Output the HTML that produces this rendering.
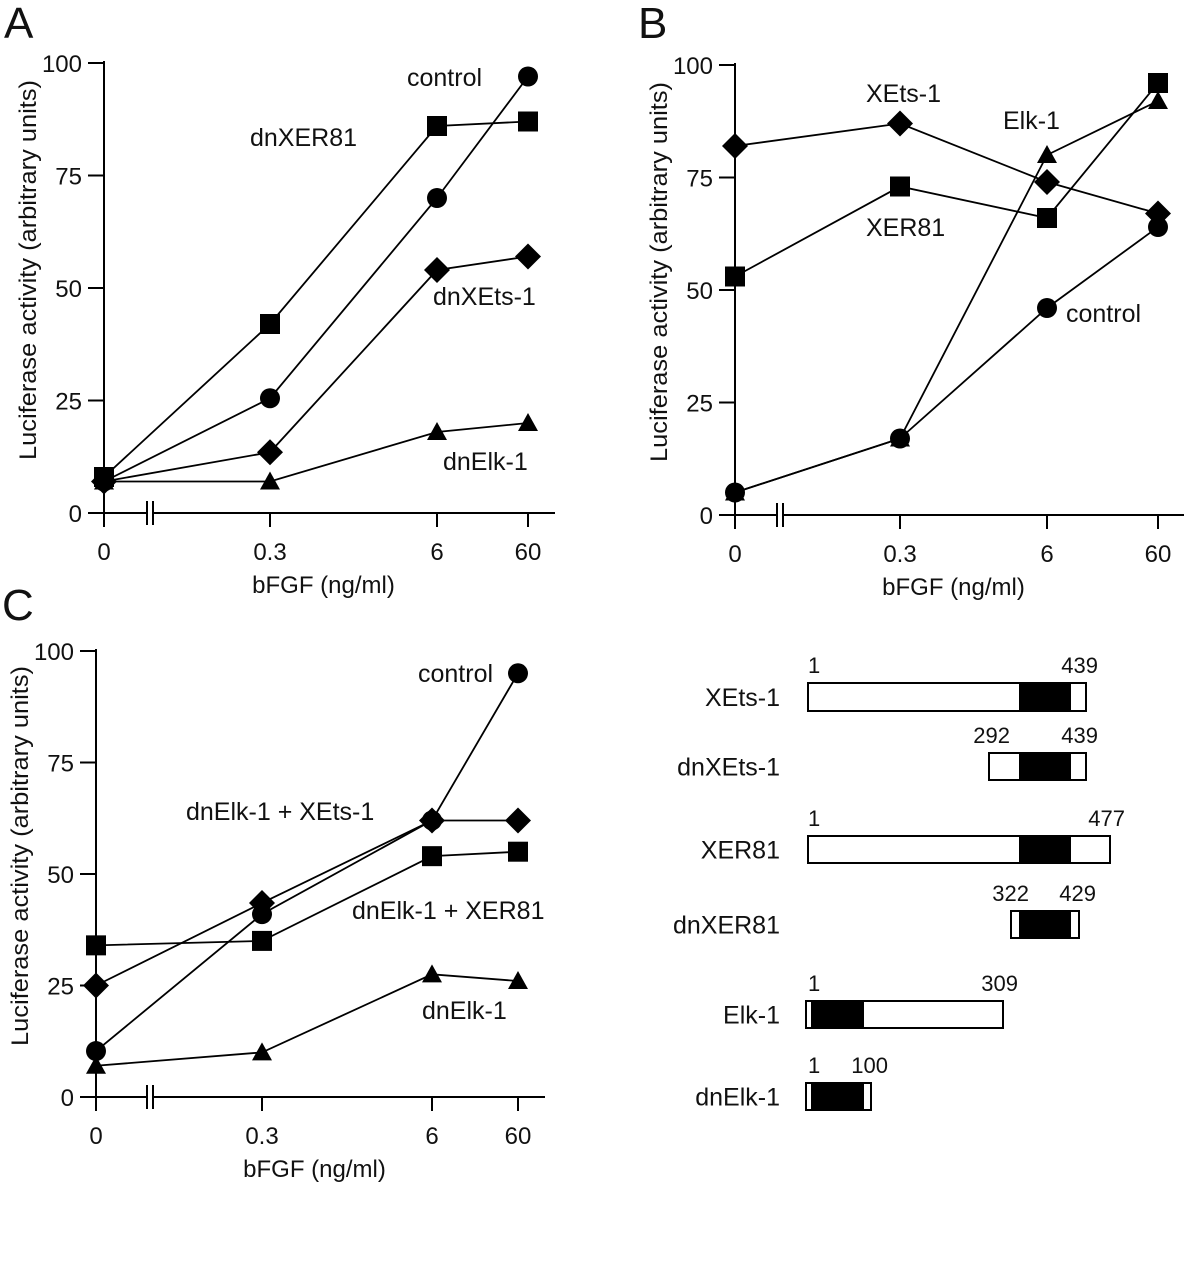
<!DOCTYPE html>
<html><head><meta charset="utf-8"><style>
html,body{margin:0;padding:0;background:#fff}
svg{display:block;font-family:"Liberation Sans",Arial,sans-serif}
text{fill:#111}
</style></head><body>
<svg id="fig" width="1184" height="1280" viewBox="0 0 1184 1280">
<text x="4" y="38" font-size="44">A</text>
<text x="638" y="38" font-size="44">B</text>
<text x="2" y="620" font-size="44">C</text>
<g id="diagram"></g>
</svg>
<script>
const NS="http://www.w3.org/2000/svg";
const svg=document.getElementById('fig');
function mk(tag,attrs,parent){const e=document.createElementNS(NS,tag);for(const k in attrs)e.setAttribute(k,attrs[k]);(parent||svg).appendChild(e);return e;}

const categories=["0","0.3","6","60"];
const yTicks=[0,25,50,75,100];
// Panel A
const aControl=[7,25.5,70,97];
const aDnXER81=[8,42,86,87];
const aDnXEts1=[7,13.5,54,57];
const aDnElk1=[7,7,18,20];
// Panel B
const bControl=[5,17,46,64];
const bXEts1=[82,87,74,67];
const bXER81=[53,73,66,96];
const bElk1=[5,17,80,92];
// Panel C
const cControl=[10.3,41,62,95];
const cDnElk1XEts1=[25,43.5,62,62];
const cDnElk1XER81=[34,35,54,55];
const cDnElk1=[7,10,27.5,26];

function panel(p){
  const g=mk('g',{});
  
  
  const yS=v=>p.y0-(p.y0-p.y100)*v/100;
  const xS=i=>p.xs[i];
  const ya=mk('line',{x1:p.ax,y1:p.y100-2,x2:p.ax,y2:p.y0,stroke:'#000','stroke-width':2},g);
  
  const xa=mk('line',{x1:p.ax,y1:p.y0,x2:p.xend,y2:p.y0,stroke:'#000','stroke-width':2},g);
  
  mk('rect',{x:p.brk-3,y:p.y0-12,width:6,height:24,fill:'#fff'},g);
  mk('line',{x1:p.brk-3,y1:p.y0-12,x2:p.brk-3,y2:p.y0+12,stroke:'#000','stroke-width':2},g);
  mk('line',{x1:p.brk+3,y1:p.y0-12,x2:p.brk+3,y2:p.y0+12,stroke:'#000','stroke-width':2},g);
  yTicks.forEach(t=>{
    mk('line',{x1:p.ax-16,y1:yS(t),x2:p.ax,y2:yS(t),stroke:'#000','stroke-width':2},g);
    const tl=mk('text',{x:p.ax-22,y:yS(t)+9,'font-size':24,'text-anchor':'end'},g);tl.textContent=t;
    
  });
  categories.forEach((c,i)=>{
    mk('line',{x1:xS(i),y1:p.y0,x2:xS(i),y2:p.y0+14,stroke:'#000','stroke-width':2},g);
    const tl=mk('text',{x:xS(i),y:p.y0+47,'font-size':24,'text-anchor':'middle'},g);tl.textContent=c;
    
  });
  const xt=mk('text',{x:(p.ax+p.xend)/2-6,y:p.y0+80,'font-size':24,'text-anchor':'middle'},g);xt.textContent='bFGF (ng/ml)';
  
  const yc=(p.y0+p.y100)/2-18;
  const tx=p.ax-68;
  const yt=mk('text',{x:tx,y:yc,'font-size':24,'text-anchor':'middle',textLength:380,lengthAdjust:'spacingAndGlyphs',transform:`rotate(-90 ${tx} ${yc})`},g);
  yt.textContent='Luciferase activity (arbitrary units)';
  
  p.series.forEach(s=>{
    const sg=mk('g',{},g);
    
    const pts=s.v.map((v,i)=>xS(i)+','+yS(v)).join(' ');
    mk('polyline',{points:pts,fill:'none',stroke:'#000','stroke-width':1.8},sg);
    s.v.forEach((v,i)=>{
      const x=xS(i),y=yS(v);let m;
      if(s.m==='c')m=mk('circle',{cx:x,cy:y,r:10,fill:'#000'},sg);
      else if(s.m==='s')m=mk('rect',{x:x-10,y:y-10,width:20,height:20,fill:'#000'},sg);
      else if(s.m==='d')m=mk('polygon',{points:`${x},${y-13} ${x+13},${y} ${x},${y+13} ${x-13},${y}`,fill:'#000'},sg);
      else m=mk('polygon',{points:`${x},${y-10} ${x+10},${y+8} ${x-10},${y+8}`,fill:'#000'},sg);
      
    });
  });
  p.labels.forEach(l=>{
    const t=mk('text',{x:l[1],y:l[2],'font-size':25,'text-anchor':'start'},g);t.textContent=l[0];
    
  });
}
panel({name:'panel-a-chart',ax:104,y0:513,y100:63,xs:[104,270,437,528],xend:555,brk:150,
  series:[{name:'series-dnelk1',v:aDnElk1,m:'t'},{name:'series-dnxets1',v:aDnXEts1,m:'d'},{name:'series-control',v:aControl,m:'c'},{name:'series-dnxer81',v:aDnXER81,m:'s'}],
  labels:[['control',407,86],['dnXER81',250,146],['dnXEts-1',433,305],['dnElk-1',443,470]]});
panel({name:'panel-b-chart',ax:735,y0:515,y100:65,xs:[735,900,1047,1158],xend:1184,brk:780,
  series:[{name:'series-control',v:bControl,m:'c'},{name:'series-elk1',v:bElk1,m:'t'},{name:'series-xets1',v:bXEts1,m:'d'},{name:'series-xer81',v:bXER81,m:'s'}],
  labels:[['XEts-1',866,102],['Elk-1',1003,129],['XER81',866,236],['control',1066,322]]});
panel({name:'panel-c-chart',ax:96,y0:1097,y100:651,xs:[96,262,432,518],xend:545,brk:150,
  series:[{name:'series-dnelk1',v:cDnElk1,m:'t'},{name:'series-control',v:cControl,m:'c'},{name:'series-dnelk1-xets1',v:cDnElk1XEts1,m:'d'},{name:'series-dnelk1-xer81',v:cDnElk1XER81,m:'s'}],
  labels:[['control',418,682],['dnElk-1 + XEts-1',186,820],['dnElk-1 + XER81',352,919],['dnElk-1',422,1019]]});

const domains=[
 {name:'XEts-1',x1:808,x2:1086,y1:683,y2:711,b1:1019,b2:1071,nums:[['1',808,'start'],['439',1098,'end']]},
 {name:'dnXEts-1',x1:989,x2:1086,y1:753,y2:780,b1:1019,b2:1071,nums:[['292',1010,'end'],['439',1098,'end']]},
 {name:'XER81',x1:808,x2:1110,y1:836,y2:863,b1:1019,b2:1071,nums:[['1',808,'start'],['477',1125,'end']]},
 {name:'dnXER81',x1:1011,x2:1079,y1:911,y2:938,b1:1019,b2:1071,nums:[['322',1029,'end'],['429',1096,'end']]},
 {name:'Elk-1',x1:806,x2:1003,y1:1001,y2:1028,b1:811,b2:864,nums:[['1',808,'start'],['309',1018,'end']]},
 {name:'dnElk-1',x1:806,x2:871,y1:1083,y2:1110,b1:811,b2:864,nums:[['1',808,'start'],['100',888,'end']]}
];
const dg=document.getElementById('diagram');
domains.forEach(d=>{
  const g=mk('g',{},dg);
  
  
  mk('rect',{x:d.x1,y:d.y1,width:d.x2-d.x1,height:d.y2-d.y1,fill:'#fff',stroke:'#000','stroke-width':2},g);
  mk('rect',{x:d.b1,y:d.y1,width:d.b2-d.b1,height:d.y2-d.y1,fill:'#000'},g);
  const t=mk('text',{x:780,y:(d.y1+d.y2)/2+9,'font-size':25,'text-anchor':'end'},g);t.textContent=d.name;
  d.nums.forEach(n=>{const tt=mk('text',{x:n[1],y:d.y1-10,'font-size':22,'text-anchor':n[2]},g);tt.textContent=n[0];});
});
</script>
</body></html>
